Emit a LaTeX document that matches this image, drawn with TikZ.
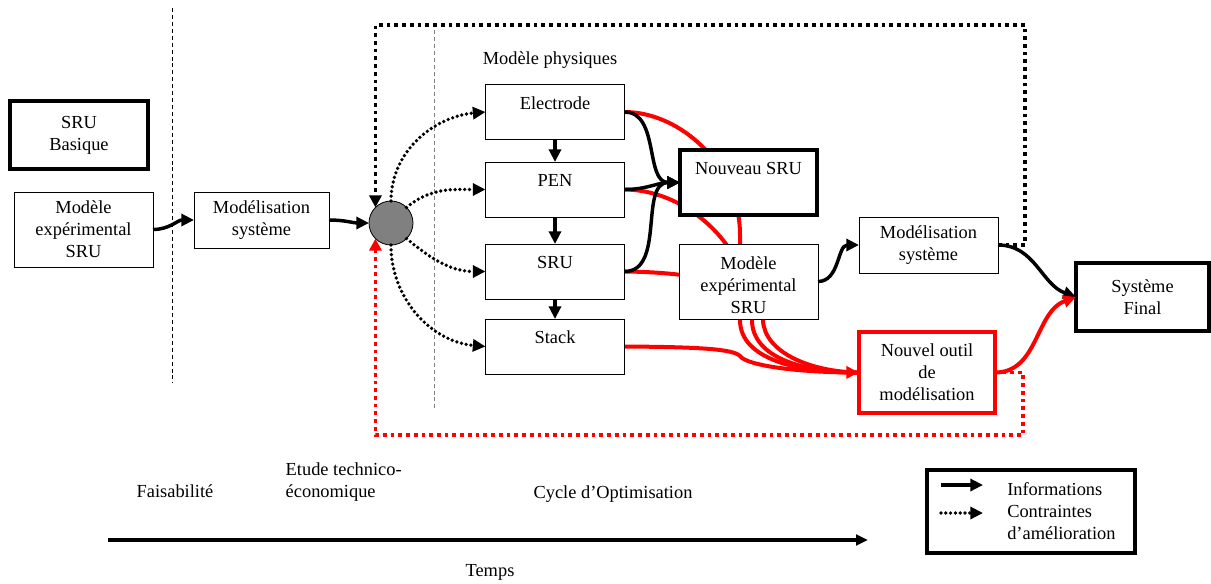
\documentclass[tikz,border=0pt]{standalone}
\usepackage{fontspec}
\setmainfont{Liberation Serif}
\usetikzlibrary{arrows.meta,backgrounds}
\begin{document}
\begin{tikzpicture}[x=0.75pt,y=-0.75pt,
  font=\fontsize{13.8}{16.5}\selectfont,
  sz/.style 2 args={minimum width=0.75pt*#1, minimum height=0.75pt*#2},
  box/.style={draw, line width=0.6pt, fill=white, inner sep=0pt, outer sep=0pt, align=center},
  thickbox/.style={box, line width=3pt},
  redbox/.style={box, draw=red, line width=3pt},
  toplabel/.style={label={[anchor=center,yshift=-13.9pt]north:#1}},
  arr/.style={-{Triangle[length=9.5pt,width=9pt]}},
  info/.style={arr, line width=2.6pt},
  redinfo/.style={arr, line width=3pt, color=red},
  redline/.style={line width=3pt, color=red},
  rdot/.style={line width=2.8pt, line cap=round, dash pattern=on 0pt off 3.6pt, -{Triangle[length=9.5pt,width=9pt]}},
  sqdot/.style={line width=2.8pt, dash pattern=on 2.8pt off 3pt, -{Triangle[length=9pt,width=9pt]}},
]
\useasboundingbox (0,0) rectangle (1211,583);

% separators
\coordinate (d1a) at (172,8); \coordinate (d1b) at (172,383);
\coordinate (d2a) at (434,30); \coordinate (d2b) at (434,408);
\draw[line width=0.7pt, dash pattern=on 3pt off 2.2pt] (d1a) -- (d1b);
\draw[line width=0.7pt, gray, dash pattern=on 3pt off 2.2pt] (d2a) -- (d2b);

% boxes
\node[thickbox, sz={138}{68}] (SB) at (79,135) {SRU\\Basique};
\node[box, sz={139}{75}] (ML) at (83.5,229.5) {Modèle\\expérimental\\SRU};
\node[box, sz={135}{56}] (MSL) at (261.5,220) {Modélisation\\système};
\node[circle, draw, line width=0.6pt, fill={rgb,255:red,128;green,128;blue,128}, minimum size=33pt, inner sep=0pt, outer sep=0pt] (C) at (391,223) {};
\node[box, sz={139}{55}, toplabel=Electrode] (E) at (555,112) {};
\node[box, sz={139}{55}, toplabel=PEN] (P) at (555,189.5) {};
\node[box, sz={139}{55}, toplabel=SRU] (S) at (555,271.5) {};
\node[box, sz={139}{55}, toplabel=Stack] (St) at (555,346.5) {};
\node[thickbox, sz={137}{65}, toplabel={Nouveau SRU}] (NS) at (748.5,182.5) {};
\node[box, sz={139}{75}, label={[anchor=center,align=center,yshift=-3pt]center:Modèle\\expérimental\\SRU}] (MM) at (748.5,281.5) {};
\node[box, sz={139}{56}] (MSr) at (928.5,245) {Modélisation\\système};
\node[thickbox, sz={133}{68}] (SF) at (1142.5,297) {Système\\Final};
\node[redbox, sz={136}{81}] (NO) at (927,372.5) {Nouvel outil\\de\\modélisation};

% red connectors (behind boxes)
\begin{pgfonlayer}{background}
\draw[redline] (E.east) .. controls (680,112) and (740,165) .. (740,235) -- (740,320) .. controls (740,360) and (800,373) .. (NO.west);
\draw[redline] (P.east) .. controls (690,190) and (752,250) .. (752,320) .. controls (752,358) and (805,373) .. (NO.west);
\draw[redline] (S.east) .. controls (680,272) and (762,280) .. (763,320) .. controls (764,352) and (810,372) .. (NO.west);
\draw[redline, arr] (St.east) .. controls (700,347) and (733,349) .. (740,356) .. controls (747,366) and (800,372) .. (NO.west);
\end{pgfonlayer}

% dotted feedback loops
\coordinate (tr) at (1025,25);
\coordinate (br) at (1023,435);
\draw[sqdot] (MSr.east) -| (tr) -| (C.north west);
\draw[sqdot, color=red] (NO.east) -| (br) -| (C.south west);

% information arrows
\draw[info] (ML.east) to[out=0,in=180] (MSL.west);
\draw[info] (MSL.east) to[out=0,in=180] (C.west);
\draw[info] (E.south) -- (P.north);
\draw[info] (P.south) -- (S.north);
\draw[info] (S.south) -- (St.north);
\draw[info] (E.east) to[out=0,in=180] (NS.west);
\draw[info] (P.east) to[out=0,in=180] (NS.west);
\draw[info] (S.east) to[out=0,in=180] (NS.west);
\draw[info] (MM.east) to[out=0,in=180] (MSr.west);
\draw[info] (MSr.east) to[out=0,in=160] (SF.west);
\draw[redinfo] (NO.east) to[out=0,in=200] (SF.west);

% constraint arrows from hub
\draw[rdot] (C.north) to[out=90,in=185] (E.west);
\draw[rdot] (C.north east) to[out=40,in=180] (P.west);
\draw[rdot] (C.south east) to[out=-40,in=180] (S.west);
\draw[rdot] (C.south) to[out=-90,in=175] (St.west);

% labels
\node (mp) at (550,60) {Modèle physiques};
\node (fa) at (175,491) {Faisabilité};
\node[anchor=west, align=left] (et) at (281,482) {Etude technico-\\économique};
\node (co) at (613,494) {Cycle d’Optimisation};
\node (tp) at (490,572) {Temps};

% time axis
\coordinate (t0) at (108,540); \coordinate (t1) at (868,540);
\draw[line width=3pt, -{Triangle[length=9pt,width=8pt]}] (t0) -- (t1);

% legend
\node[draw, line width=3pt, inner sep=0pt, sz={208}{83}] (L) at (1031,511.5) {};
\coordinate (l1a) at (941,485); \coordinate (l1b) at (983,485);
\coordinate (l2a) at (941,513); \coordinate (l2b) at (983,513);
\draw[info] (l1a) -- (l1b);
\draw[rdot] (l2a) -- (l2b);
\node[anchor=north west, align=left, inner sep=0pt] (Lt) at (1007,482) {Informations\\Contraintes\\d’amélioration};
\end{tikzpicture}
\end{document}
